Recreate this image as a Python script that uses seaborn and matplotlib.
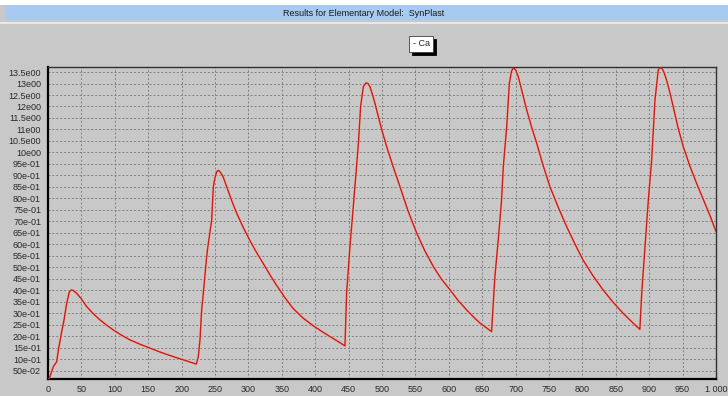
import matplotlib
matplotlib.use("Agg")
import matplotlib.pyplot as plt
from matplotlib.patches import Rectangle
from matplotlib.ticker import FixedLocator, MultipleLocator
import seaborn as sns
import pandas as pd

# Simulated calcium concentration (Ca) over time for the SynPlast model
time_ms = [0, 2, 8, 13, 15.5, 20.5, 24, 28, 32, 35, 37, 43, 50, 58, 68, 78, 88, 98, 110,
           123, 138, 153, 170, 188, 205, 222,
           225, 227.5, 230, 232.5, 237.5, 240, 245, 247.5, 250, 252.5, 255, 257.5, 262,
           267.5, 275, 282.5, 292, 302, 312, 322, 332, 342, 355, 367, 382, 397, 410, 422,
           434, 444.6,
           447, 452, 457, 461, 464.7, 468, 472, 476, 479, 482, 487, 492, 499, 507, 517,
           527, 539, 552, 564, 577, 589, 602, 614, 627, 637, 647, 656, 664,
           669, 674, 679, 681.6, 686.7, 690.6, 694, 696.6, 700, 704, 710, 716.6, 724,
           731.6, 741, 751.5, 764, 776.5, 789, 801, 816, 831, 846, 861, 874, 886,
           888.8, 893.7, 898.7, 903.7, 908.7, 913.6, 916, 918.7, 922, 926, 931, 936, 943,
           951, 961, 971, 981, 991, 1000]
ca_values = [0.15, 0.16, 0.67, 0.88, 1.39, 2.19, 2.70, 3.43, 3.93, 4.01, 4.00, 3.86, 3.62,
             3.28, 2.97, 2.70, 2.47, 2.26, 2.04, 1.83, 1.64, 1.47, 1.28, 1.10, 0.94, 0.78,
             1.10, 1.83, 3.13, 3.86, 5.46, 6.04, 7.05, 8.50, 8.90, 9.16, 9.22, 9.16, 8.95,
             8.50, 7.90, 7.35, 6.75, 6.18, 5.65, 5.17, 4.68, 4.22, 3.66, 3.20, 2.78, 2.45,
             2.20, 1.98, 1.77, 1.57,
             3.86, 5.89, 7.63, 9.09, 10.40, 12.00, 12.86, 13.03, 13.00, 12.86, 12.40, 11.85,
             11.05, 10.25, 9.35, 8.50, 7.45, 6.48, 5.72, 5.02, 4.48, 4.01, 3.55, 3.13, 2.83,
             2.56, 2.37, 2.19,
             4.59, 6.18, 7.93, 9.38, 11.12, 13.00, 13.55, 13.68, 13.60, 13.30, 12.60, 11.85,
             11.10, 10.40, 9.45, 8.50, 7.60, 6.76, 6.00, 5.31, 4.62, 4.01, 3.47, 2.99, 2.62,
             2.29,
             3.86, 5.89, 7.93, 9.67, 12.30, 13.60, 13.68, 13.68, 13.50, 13.15, 12.60, 11.99,
             11.10, 10.25, 9.40, 8.65, 7.95, 7.25, 6.55]

x_ticks = list(range(0, 1001, 50))
x_labels = [str(v) for v in x_ticks[:-1]] + ["1 000"]
y_ticks = [0.5 * k for k in range(1, 28)]
y_labels = ["50e-02", "10e-01", "15e-01", "20e-01", "25e-01", "30e-01", "35e-01",
            "40e-01", "45e-01", "50e-01", "55e-01", "60e-01", "65e-01", "70e-01",
            "75e-01", "80e-01", "85e-01", "90e-01", "95e-01", "10e00", "10.5e00",
            "11e00", "11.5e00", "12e00", "12.5e00", "13e00", "13.5e00"]

title_text = "Results for Elementary Model:  SynPlast"
series_name = "Ca"

df = pd.DataFrame({"t": time_ms, "Ca": ca_values})

sns.set_style("white")
plt.rcParams["font.family"] = ["Liberation Sans Narrow", "Liberation Sans", "DejaVu Sans"]

W, H = 728, 396
bg = "#c8c8c8"
fig = plt.figure(figsize=(W / 100, H / 100), dpi=100, facecolor=bg)

# window chrome: white strip and light-blue title bar
fig.patches.append(Rectangle((0, 1 - 5 / H), 1, 5 / H, transform=fig.transFigure,
                             facecolor="white", edgecolor="none", zorder=0))
fig.patches.append(Rectangle((5 / W, 1 - 20 / H), 1, 15 / H, transform=fig.transFigure,
                             facecolor="#a6caf0", edgecolor="none", zorder=0))
fig.patches.append(Rectangle((0, 1 - 24 / H), 1, 2 / H, transform=fig.transFigure,
                             facecolor="#e8e8e8", edgecolor="none", zorder=0))
fig.text(364 / W, 1 - 13 / H, title_text, ha="center", va="center",
         fontsize=6.5, color="#1a1a1a")

ax = fig.add_axes([48 / W, 1 - 379 / H, (716 - 48) / W, (379 - 67) / H])
ax.set_facecolor(bg)

# soft halo under the trace, then the trace itself
ax.plot(df["t"], df["Ca"], color="#f4b8a0", lw=2.2, alpha=0.55, zorder=2)
sns.lineplot(data=df, x="t", y="Ca", ax=ax, color="#cc1a1a", lw=1.0,
             label="- " + series_name, zorder=3)

ax.set_xlim(0, 1000)
ax.set_ylim(0.13, 13.72)

ax.xaxis.set_major_locator(FixedLocator(x_ticks))
ax.set_xticklabels(x_labels)
ax.xaxis.set_minor_locator(MultipleLocator(10))
ax.yaxis.set_major_locator(FixedLocator(y_ticks))
ax.set_yticklabels(y_labels)

ax.tick_params(axis="both", which="major", direction="out", length=3, width=0.8,
               color="#202020", labelsize=6.5, labelcolor="#2a2a2a", pad=2)
ax.tick_params(axis="x", which="major", pad=1.5)
ax.tick_params(axis="x", which="minor", direction="out", length=1.5, width=0.6,
               color="#404040")
ax.set_xlabel("")
ax.set_ylabel("")

ax.grid(True, which="major", color="#808080", linestyle=(0, (2, 2)), linewidth=0.7)
ax.set_axisbelow(True)

for side in ("left", "bottom"):
    ax.spines[side].set_color("#000000")
    ax.spines[side].set_linewidth(1.6)
for side in ("top", "right"):
    ax.spines[side].set_color("#303030")
    ax.spines[side].set_linewidth(1.0)

leg = ax.legend(loc="center", bbox_to_anchor=(421 / W, 1 - 44 / H),
                bbox_transform=fig.transFigure, frameon=True, fancybox=False,
                shadow={"color": "black", "alpha": 1.0}, handlelength=0, handletextpad=0,
                fontsize=6.5, borderpad=0.4, borderaxespad=0)
leg.get_frame().set_facecolor("white")
leg.get_frame().set_edgecolor("#404040")
leg.get_frame().set_linewidth(0.6)
for h in leg.legend_handles:
    h.set_visible(False)

fig.savefig("out.png", dpi=100, facecolor=bg)
